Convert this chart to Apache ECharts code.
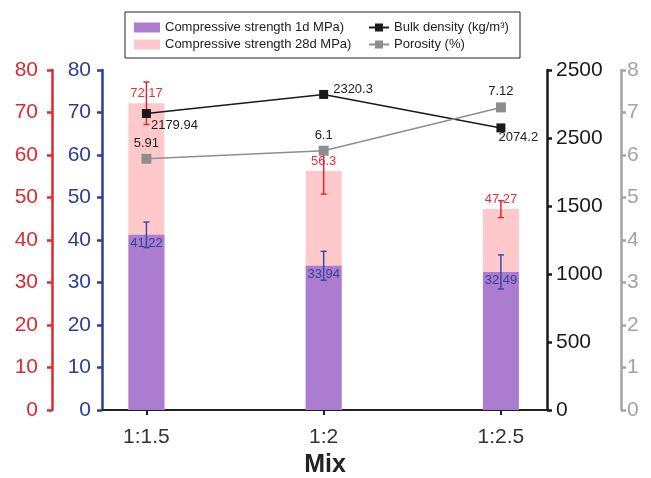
<!DOCTYPE html>
<html><head><meta charset="utf-8">
<script src="https://cdn.jsdelivr.net/npm/echarts@6/dist/echarts.min.js"></script>
<style>html,body{margin:0;padding:0;background:#fff}#c{width:651px;height:478px}</style>
</head><body><div id="c"></div>
<script>
const categories = ['1:1.5', '1:2', '1:2.5'];
const strength1d = [41.22, 33.94, 32.49];
const strength1dErr = [3.0, 3.4, 4.0];
const strength28d = [72.17, 56.3, 47.27];
const strength28dErr = [5.0, 5.5, 2.0];
const bulkDensity = [2179.94, 2320.3, 2074.2];
const porosity = [5.91, 6.1, 7.12];
const leftTicks = ['0','10','20','30','40','50','60','70','80'];
const densityTickLabels = ['0','500','1000','1500','2500','2500'];
const porosityTicks = ['0','1','2','3','4','5','6','7','8'];

const FONT = 'Liberation Sans, Arial, sans-serif';
const RED = '#dc2a34', BLUE = '#2d3f94', GRAY = '#a3a3a3';
const densityLabelPos = [[9, 10], [14, -7.5], [2, 7.5]];

function errSeries(name, vals, errs, yIdx, color) {
  return {
    type: 'custom', name: name, xAxisIndex: 0, yAxisIndex: yIdx, z: 5, silent: true,
    data: vals.map((v, i) => [i, v, errs[i]]),
    renderItem: function (params, api) {
      const x = api.value(0), v = api.value(1), e = api.value(2);
      const hi = api.coord([x, v + e]), lo = api.coord([x, v - e]);
      const w = 3;
      return { type: 'group', children: [
        { type: 'line', shape: { x1: hi[0], y1: hi[1], x2: lo[0], y2: lo[1] }, style: { stroke: color, lineWidth: 1.5 } },
        { type: 'line', shape: { x1: hi[0] - w, y1: hi[1], x2: hi[0] + w, y2: hi[1] }, style: { stroke: color, lineWidth: 1.5 } },
        { type: 'line', shape: { x1: lo[0] - w, y1: lo[1], x2: lo[0] + w, y2: lo[1] }, style: { stroke: color, lineWidth: 1.5 } }
      ]};
    }
  };
}

const chart = echarts.init(document.getElementById('c'));
chart.setOption({
  animation: false,
  textStyle: { fontFamily: FONT },
  grid: { left: 103, right: 104, top: 70, bottom: 68, outerBoundsMode: 'none', containLabel: false },
  graphic: [{ type: 'rect', shape: { x: 125, y: 12, width: 395, height: 46 }, style: { fill: 'none', stroke: '#222', lineWidth: 1 }, z: 10 }],
  legend: [
    { left: 134, top: 21, padding: 0, orient: 'vertical', itemWidth: 26, itemHeight: 10, itemGap: 4,
      textStyle: { fontSize: 13, color: '#222', fontFamily: FONT },
      data: [{ name: 'Compressive strength 1d MPa)', icon: 'rect' }, { name: 'Compressive strength 28d MPa)', icon: 'rect' }] },
    { left: 368, top: 21, padding: 0, orient: 'vertical', itemWidth: 20, itemHeight: 10, itemGap: 4,
      textStyle: { fontSize: 13, color: '#222', fontFamily: FONT },
      data: ['Bulk density (kg/m³)', 'Porosity (%)'] }
  ],
  xAxis: {
    type: 'value', min: -0.245, max: 2.26,
    axisLine: { onZero: false, lineStyle: { color: '#222', width: 2 } },
    axisTick: { customValues: [0, 1, 2], length: 5, lineStyle: { color: '#222', width: 2 } },
    axisLabel: { customValues: [0, 1, 2], formatter: v => categories[Math.round(v)], fontSize: 21, color: '#333', margin: 17 },
    splitLine: { show: false },
    name: 'Mix', nameLocation: 'middle', nameGap: 43,
    nameTextStyle: { fontSize: 25, fontWeight: 'bold', color: '#222' }
  },
  yAxis: [
    { type: 'value', position: 'left', offset: 51, min: 0, max: 80, interval: 10,
      axisLine: { show: true, onZero: false, lineStyle: { color: RED, width: 2.5 } },
      axisTick: { show: true, length: 5, lineStyle: { color: RED, width: 2.5 } },
      axisLabel: { color: RED, fontSize: 21, margin: 14, formatter: v => leftTicks[Math.round(v / 10)] },
      splitLine: { show: false } },
    { type: 'value', position: 'left', offset: 1, min: 0, max: 80, interval: 10,
      axisLine: { show: true, onZero: false, lineStyle: { color: BLUE, width: 2.5 } },
      axisTick: { show: true, length: 5, lineStyle: { color: BLUE, width: 2.5 } },
      axisLabel: { color: BLUE, fontSize: 21, margin: 11, formatter: v => leftTicks[Math.round(v / 10)] },
      splitLine: { show: false } },
    { type: 'value', position: 'right', offset: 0, min: 0, max: 2500, interval: 500,
      axisLine: { show: true, onZero: false, lineStyle: { color: '#1a1a1a', width: 2.5 } },
      axisTick: { show: true, length: 5, lineStyle: { color: '#1a1a1a', width: 2.5 } },
      axisLabel: { color: '#1a1a1a', fontSize: 21, margin: 9, formatter: v => densityTickLabels[Math.round(v / 500)] },
      splitLine: { show: false } },
    { type: 'value', position: 'right', offset: 74, min: 0, max: 8, interval: 1,
      axisLine: { show: true, onZero: false, lineStyle: { color: GRAY, width: 2.5 } },
      axisTick: { show: true, length: 5, lineStyle: { color: GRAY, width: 2.5 } },
      axisLabel: { color: GRAY, fontSize: 21, margin: 6, formatter: v => porosityTicks[Math.round(v)] },
      splitLine: { show: false } }
  ],
  series: [
    { type: 'bar', name: 'Compressive strength 28d MPa)', yAxisIndex: 0, barWidth: 36, barGap: '-100%',
      itemStyle: { color: '#ffc9cb' },
      data: strength28d.map((v, i) => [i, v]),
      label: { show: true, position: 'top', distance: 3, color: '#e3323c', fontSize: 13, formatter: p => strength28d[p.dataIndex] },
      z: 2 },
    { type: 'bar', name: 'Compressive strength 1d MPa)', yAxisIndex: 1, barWidth: 36, barGap: '-100%',
      itemStyle: { color: '#ab7ccf' },
      data: strength1d.map((v, i) => [i, v]),
      label: { show: true, position: 'insideTop', distance: 2, color: '#35439a', fontSize: 13, formatter: p => strength1d[p.dataIndex] },
      z: 3 },
    errSeries('err28', strength28d, strength28dErr, 0, RED),
    errSeries('err1', strength1d, strength1dErr, 1, '#3b4aa0'),
    { type: 'line', name: 'Bulk density (kg/m³)', yAxisIndex: 2, z: 6,
      symbol: 'rect', symbolSize: 9, lineStyle: { color: '#1a1a1a', width: 1.5 }, itemStyle: { color: '#1a1a1a' },
      data: bulkDensity.map((v, i) => ({ value: [i, v], label: { position: densityLabelPos[i] } })),
      label: { show: true, color: '#222', fontSize: 13, formatter: p => bulkDensity[p.dataIndex] } },
    { type: 'line', name: 'Porosity (%)', yAxisIndex: 3, z: 6,
      symbol: 'rect', symbolSize: 10, lineStyle: { color: '#8e8e8e', width: 1.5 }, itemStyle: { color: '#8e8e8e' },
      data: porosity.map((v, i) => [i, v]),
      label: { show: true, position: 'top', distance: 4, color: '#222', fontSize: 13, formatter: p => porosity[p.dataIndex] } }
  ]
});
</script></body></html>
